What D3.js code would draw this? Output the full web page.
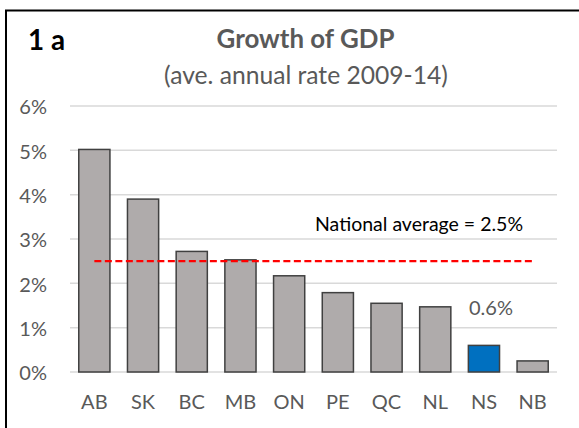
<!DOCTYPE html>
<html>
<head>
<meta charset="utf-8">
<script src="https://cdn.jsdelivr.net/npm/d3@7"></script>
<style>
  html, body { margin: 0; padding: 0; background: #fff; }
  svg { display: block; font-family: Lato, "Open Sans", sans-serif; }
</style>
</head>
<body>
<svg id="chart" width="579" height="428"></svg>
<script>
const provinces = ["AB", "SK", "BC", "MB", "ON", "PE", "QC", "NL", "NS", "NB"];
const growth = [5.02, 3.90, 2.72, 2.53, 2.17, 1.79, 1.55, 1.47, 0.60, 0.25];
const highlight = "NS";
const nationalAverage = 2.5;
const yTicks = [0, 1, 2, 3, 4, 5, 6];

const svg = d3.select("#chart");

// scale font so text spans a target width
function fitWidth(sel, target, base) {
  sel.style("font-size", base + "px");
  const w = sel.node().getComputedTextLength();
  if (w > 0) sel.style("font-size", (base * target / w).toFixed(2) + "px");
  return sel;
}

// outer frame
svg.append("rect")
  .attr("x", 6).attr("y", 10.5)
  .attr("width", 600).attr("height", 440)
  .attr("fill", "none").attr("stroke", "#000").attr("stroke-width", 2);

const x = d3.scaleBand().domain(provinces).range([70, 557]).paddingInner(0.36).paddingOuter(0.18);
const y = d3.scaleLinear().domain([0, 6]).range([372, 106]);

// gridlines
svg.append("g").selectAll("line").data(yTicks).join("line")
  .attr("x1", 70).attr("x2", 557)
  .attr("y1", d => y(d)).attr("y2", d => y(d))
  .attr("stroke", "#D9D9D9").attr("stroke-width", 1.5);

// y axis labels
const yAxis = d3.axisLeft(y).tickValues(yTicks).tickFormat(d => d + "%").tickSize(0).tickPadding(0);
const gy = svg.append("g").attr("transform", "translate(47,1.5)").call(yAxis);
gy.select(".domain").remove();
gy.selectAll("text").attr("fill", "#595959").style("font-size", "20px").style("font-family", "Lato, sans-serif");

// bars
svg.append("g").selectAll("rect").data(provinces).join("rect")
  .attr("x", d => x(d))
  .attr("width", x.bandwidth())
  .attr("y", (d, i) => y(growth[i]))
  .attr("height", (d, i) => y(0) - y(growth[i]))
  .attr("fill", d => d === highlight ? "#0070C0" : "#AFABAB")
  .attr("stroke", "#404040").attr("stroke-width", 1.5);

// x axis labels
const xAxis = d3.axisBottom(x).tickSize(0).tickPadding(0);
const gx = svg.append("g").attr("transform", "translate(0,395)").call(xAxis);
gx.select(".domain").remove();
gx.selectAll("text").attr("fill", "#595959").style("font-size", "20px").style("font-family", "Lato, sans-serif");

// national average line
svg.append("line")
  .attr("x1", x(provinces[0]) + x.bandwidth() / 2)
  .attr("x2", x(provinces[provinces.length - 1]) + x.bandwidth() / 2)
  .attr("y1", y(nationalAverage)).attr("y2", y(nationalAverage))
  .attr("stroke", "#FF0000").attr("stroke-width", 2.2)
  .attr("stroke-dasharray", "7,3.5");

fitWidth(svg.append("text")
  .attr("x", 419).attr("y", 231)
  .attr("text-anchor", "middle")
  .attr("fill", "#000")
  .text("National average = " + nationalAverage + "%"), 208, 20);

// NS label
const nsIdx = provinces.indexOf(highlight);
svg.append("text")
  .attr("x", x(highlight) + x.bandwidth() / 2 + 7).attr("y", 315)
  .attr("text-anchor", "middle")
  .attr("fill", "#595959").style("font-size", "20px")
  .text(growth[nsIdx].toFixed(1) + "%");

// titles
fitWidth(svg.append("text")
  .attr("x", 28).attr("y", 50)
  .attr("fill", "#000").style("font-weight", "bold")
  .text("1 a"), 37, 25);

fitWidth(svg.append("text")
  .attr("x", 305.5).attr("y", 47.5)
  .attr("text-anchor", "middle")
  .attr("fill", "#595959").style("font-weight", "bold")
  .text("Growth of GDP"), 178, 22);

fitWidth(svg.append("text")
  .attr("x", 306).attr("y", 83.5)
  .attr("text-anchor", "middle")
  .attr("fill", "#595959")
  .text("(ave. annual rate 2009-14)"), 284, 22);
</script>
</body>
</html>
